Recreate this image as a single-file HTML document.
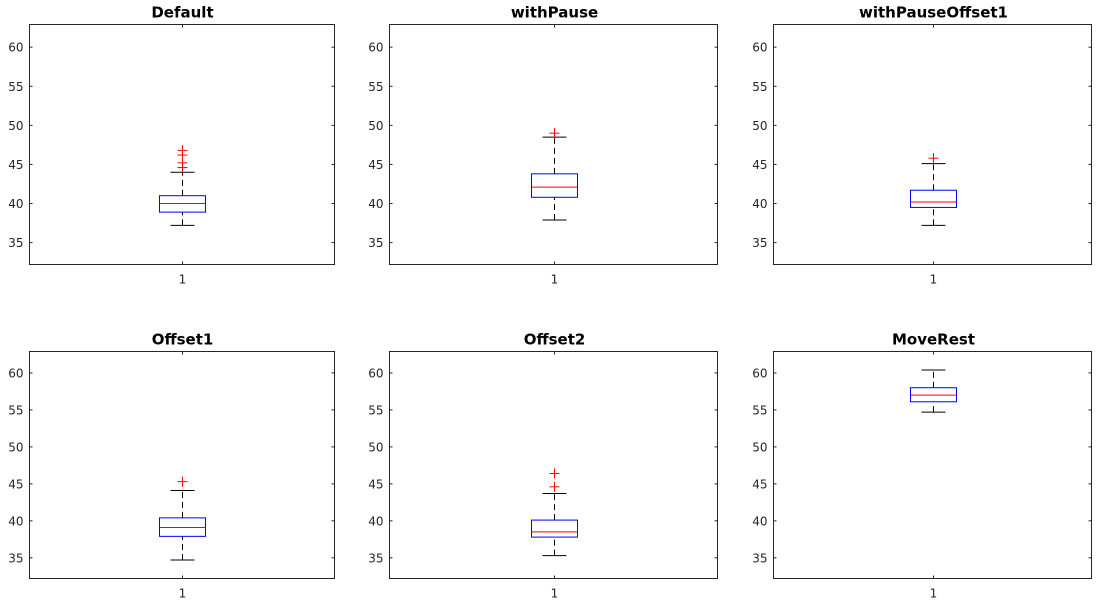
<!DOCTYPE html>
<html><head><meta charset="utf-8"><style>
html,body{margin:0;padding:0;background:#fff;width:1101px;height:602px;overflow:hidden}
svg text{font-family:"DejaVu Sans","Liberation Sans",sans-serif}
</style></head><body>
<svg id="s" width="1101" height="602" xmlns="http://www.w3.org/2000/svg"></svg>
<script>
var s=document.getElementById('s'),h='';
var cols=[[29,334],[389,717],[773,1091]];
var rows=[[24,264],[351,578]];
var Y0=62.9,Y1=32.2;
var data=[
["Default",[37.2,38.9,40.0,41.0,44.0],[44.6,45.2,46.2,46.8]],
["withPause",[37.9,40.8,42.1,43.8,48.5],[49.0]],
["withPauseOffset1",[37.2,39.5,40.2,41.7,45.1],[45.8]],
["Offset1",[34.7,37.9,39.1,40.4,44.1],[45.3]],
["Offset2",[35.3,37.8,38.5,40.1,43.7],[44.6,46.4]],
["MoveRest",[54.7,56.1,57.0,58.0,60.4],[]]];
data.forEach(function(d,i){
 var c=cols[i%3],r=rows[Math.floor(i/3)];
 var L=c[0]+.5,R=c[1]+.5,T=r[0]+.5,B=r[1]+.5,cx=Math.round((L+R)/2)+.5;
 function y(v){return T+(Y0-v)/(Y0-Y1)*(B-T);}
 h+='<rect x="'+L+'" y="'+T+'" width="'+(R-L)+'" height="'+(B-T)+'" fill="#fff" stroke="#262626" stroke-width="1"/>';
 for(var v=35;v<=60;v+=5){var yy=y(v);
  h+='<line x1="'+L+'" x2="'+(L+3)+'" y1="'+yy+'" y2="'+yy+'" stroke="#262626"/>';
  h+='<line x1="'+(R-3)+'" x2="'+R+'" y1="'+yy+'" y2="'+yy+'" stroke="#262626"/>';
  h+='<text x="'+(L-6)+'" y="'+(yy+4.5)+'" font-size="12" fill="#262626" text-anchor="end">'+v+'</text>';}
 h+='<line x1="'+cx+'" x2="'+cx+'" y1="'+T+'" y2="'+(T+3)+'" stroke="#262626"/>';
 h+='<line x1="'+cx+'" x2="'+cx+'" y1="'+(B-3)+'" y2="'+B+'" stroke="#262626"/>';
 h+='<text x="'+cx+'" y="'+(B+19)+'" font-size="12" fill="#262626" text-anchor="middle">1</text>';
 h+='<text x="'+cx+'" y="'+(T-7)+'" font-size="15" font-weight="bold" fill="#000" text-anchor="middle">'+d[0]+'</text>';
 var q=d[1];
 h+='<line x1="'+cx+'" x2="'+cx+'" y1="'+y(q[0])+'" y2="'+y(q[1])+'" stroke="#000" stroke-dasharray="6,4"/>';
 h+='<line x1="'+cx+'" x2="'+cx+'" y1="'+y(q[3])+'" y2="'+y(q[4])+'" stroke="#000" stroke-dasharray="6,4"/>';
 h+='<line x1="'+(cx-12)+'" x2="'+(cx+12)+'" y1="'+y(q[0])+'" y2="'+y(q[0])+'" stroke="#000"/>';
 h+='<line x1="'+(cx-12)+'" x2="'+(cx+12)+'" y1="'+y(q[4])+'" y2="'+y(q[4])+'" stroke="#000"/>';
 h+='<rect x="'+(cx-23)+'" y="'+y(q[3])+'" width="46" height="'+(y(q[1])-y(q[3]))+'" fill="none" stroke="#00f"/>';
 h+='<line x1="'+(cx-23)+'" x2="'+(cx+23)+'" y1="'+y(q[2])+'" y2="'+y(q[2])+'" stroke="#f00"/>';
 d[2].forEach(function(o){var yy=y(o);
  h+='<line x1="'+(cx-5)+'" x2="'+(cx+5)+'" y1="'+yy+'" y2="'+yy+'" stroke="#f00"/>';
  h+='<line x1="'+cx+'" x2="'+cx+'" y1="'+(yy-5)+'" y2="'+(yy+5)+'" stroke="#f00"/>';});
});
s.innerHTML=h;
</script>
</body></html>
